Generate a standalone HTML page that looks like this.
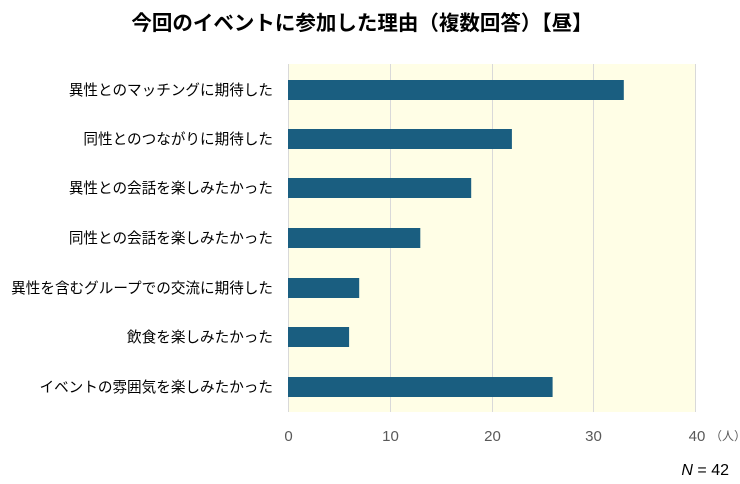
<!DOCTYPE html>
<html><head><meta charset="utf-8"><style>
html,body{margin:0;padding:0;background:#fff;}
svg{display:block;}
</style></head><body>
<svg width="740" height="484" viewBox="0 0 740 484" xmlns="http://www.w3.org/2000/svg" font-family="'Liberation Sans','Noto Sans CJK JP',sans-serif">
<rect width="740" height="484" fill="#fff"/>
<text x="362" y="30" text-anchor="middle" font-size="20.5" font-weight="bold" fill="#000">今回のイベントに参加した理由（複数回答）【昼】</text>
<rect x="288" y="64" width="407" height="348" fill="#fffee6"/>
<g stroke="#d9d9d9" stroke-width="1">
<line x1="288.5" y1="64" x2="288.5" y2="412"/>
<line x1="390.5" y1="64" x2="390.5" y2="412"/>
<line x1="492.5" y1="64" x2="492.5" y2="412"/>
<line x1="593.5" y1="64" x2="593.5" y2="412"/>
<line x1="695.5" y1="64" x2="695.5" y2="412"/>
</g>
<g fill="#1a5e80">
<rect x="288" y="80" width="335.8" height="20"/>
<rect x="288" y="129" width="223.9" height="20"/>
<rect x="288" y="178" width="183.2" height="20"/>
<rect x="288" y="228" width="132.3" height="20"/>
<rect x="288" y="278" width="71.2" height="20"/>
<rect x="288" y="327" width="61.1" height="20"/>
<rect x="288" y="377" width="264.6" height="20"/>
</g>
<g font-size="14.6" fill="#000" text-anchor="end">
<text x="273" y="95">異性とのマッチングに期待した</text>
<text x="273" y="144">同性とのつながりに期待した</text>
<text x="273" y="193">異性との会話を楽しみたかった</text>
<text x="273" y="243">同性との会話を楽しみたかった</text>
<text x="273" y="293">異性を含むグループでの交流に期待した</text>
<text x="273" y="342">飲食を楽しみたかった</text>
<text x="273" y="392">イベントの雰囲気を楽しみたかった</text>
</g>
<g font-size="15" fill="#595959" text-anchor="middle">
<text x="288.5" y="441">0</text>
<text x="390.5" y="441">10</text>
<text x="492.5" y="441">20</text>
<text x="593.5" y="441">30</text>
<text x="697" y="441">40</text>
</g>
<text x="710" y="440" font-size="12" fill="#595959">（人）</text>
<text x="729" y="475" font-size="16" fill="#000" text-anchor="end"><tspan font-style="italic">N</tspan> = 42</text>
</svg>
</body></html>
